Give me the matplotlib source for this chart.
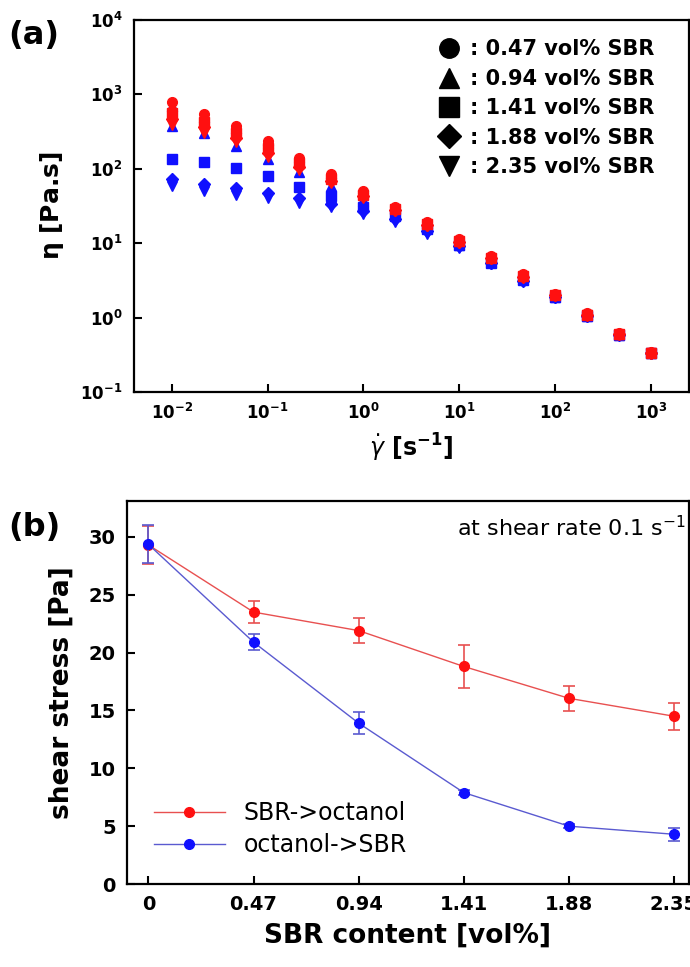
import math
import matplotlib
matplotlib.use('Agg')
import matplotlib.pyplot as plt
from matplotlib.lines import Line2D
from matplotlib.ticker import FixedLocator, FuncFormatter, NullLocator

plt.rcParams['font.family'] = ['DejaVu Sans']
plt.rcParams['mathtext.fontset'] = 'dejavusans'

# ---- panel (a): viscosity vs shear rate ----
shear_rate = [0.01, 0.0215, 0.0464, 0.1, 0.215, 0.464, 1, 2.15, 4.64,
              10, 21.5, 46.4, 100, 215, 464, 1000]
conc_labels = ['0.47', '0.94', '1.41', '1.88', '2.35']
markers = ['o', '^', 's', 'D', 'v']

# SBR->octanol (red)
eta_red_047 = [780, 540, 380, 234, 140, 85, 50, 31, 19, 11.5, 6.8, 3.8, 2.1, 1.15, 0.62, 0.34]
eta_red_094 = [700, 500, 350, 219, 130, 80, 48, 30, 18.5, 11, 6.6, 3.7, 2.05, 1.12, 0.61, 0.34]
eta_red_141 = [560, 430, 300, 188, 118, 74, 45, 29, 18, 10.8, 6.4, 3.6, 2.0, 1.1, 0.6, 0.33]
eta_red_188 = [470, 360, 260, 161, 105, 68, 43, 28, 17.5, 10.5, 6.3, 3.55, 2.0, 1.1, 0.6, 0.33]
eta_red_235 = [390, 300, 230, 145, 97, 64, 41, 27, 17, 10.2, 6.1, 3.5, 1.95, 1.08, 0.59, 0.33]
# octanol->SBR (blue)
eta_blue_047 = [600, 420, 300, 208, 125, 75, 42, 27, 17, 10, 6.0, 3.4, 1.95, 1.08, 0.6, 0.33]
eta_blue_094 = [380, 300, 200, 135, 90, 58, 37, 25, 16, 9.6, 5.6, 3.3, 1.9, 1.05, 0.59, 0.33]
eta_blue_141 = [136, 125, 103, 79, 57, 43, 31, 23, 15.5, 9.5, 5.5, 3.2, 1.9, 1.05, 0.59, 0.33]
eta_blue_188 = [73, 63, 56, 48, 41, 34, 27, 21, 14.5, 9.2, 5.4, 3.15, 1.9, 1.05, 0.59, 0.33]
eta_blue_235 = [58, 50, 44, 40, 35, 31, 24.5, 19.5, 13.5, 8.7, 5.2, 3.1, 1.85, 1.02, 0.58, 0.32]

eta_red = [eta_red_047, eta_red_094, eta_red_141, eta_red_188, eta_red_235]
eta_blue = [eta_blue_047, eta_blue_094, eta_blue_141, eta_blue_188, eta_blue_235]

# ---- panel (b): shear stress at 0.1 1/s ----
sbr_content = [0, 0.47, 0.94, 1.41, 1.88, 2.35]
stress_sbr_oct = [29.3, 23.5, 21.9, 18.8, 16.05, 14.5]
err_sbr_oct = [1.65, 0.95, 1.1, 1.85, 1.07, 1.15]
stress_oct_sbr = [29.35, 20.9, 13.9, 7.9, 5.0, 4.3]
err_oct_sbr = [1.65, 0.7, 0.97, 0.2, 0.15, 0.56]
xtick_labels = ['0', '0.47', '0.94', '1.41', '1.88', '2.35']

RED = '#ff1010'
BLUE = '#1010ff'
RED_LINE = '#e85050'
BLUE_LINE = '#5a5ad0'

fig = plt.figure(figsize=(6.9, 9.67), dpi=100)
ax1 = fig.add_axes([0.1935, 0.5946, 0.8051, 0.3847])
ax2 = fig.add_axes([0.184, 0.0858, 0.8146, 0.3961])

for ax in (ax1, ax2):
    for sp in ax.spines.values():
        sp.set_linewidth(1.6)
    ax.tick_params(direction='in', length=6, width=1.5, top=False, right=False)

# panel (a)
for vals, m in zip(eta_blue, markers):
    ms = 6 if m == 'D' else 7
    ax1.plot(shear_rate, vals, linestyle='none', marker=m, ms=ms,
             color=BLUE, mec=BLUE, zorder=2)
for vals, m in zip(eta_red, markers):
    ms = 6 if m == 'D' else 7
    ax1.plot(shear_rate, vals, linestyle='none', marker=m, ms=ms,
             color=RED, mec=RED, zorder=3)

ax1.set_xscale('log')
ax1.set_yscale('log')
ax1.set_xlim(10 ** -2.4, 10 ** 3.4)
ax1.set_ylim(0.1, 1e4)
ax1.xaxis.set_major_locator(FixedLocator([1e-2, 1e-1, 1, 10, 100, 1000]))
ax1.yaxis.set_major_locator(FixedLocator([0.1, 1, 10, 100, 1000, 1e4]))
ax1.xaxis.set_minor_locator(NullLocator())
ax1.yaxis.set_minor_locator(NullLocator())
pow_fmt = FuncFormatter(lambda v, p: r'$\mathbf{10^{%d}}$' % round(math.log10(v)))
ax1.xaxis.set_major_formatter(pow_fmt)
ax1.yaxis.set_major_formatter(pow_fmt)
ax1.tick_params(labelsize=12, pad=8)
ax1.set_xlabel(r'$\dot{\gamma}$ [s$^{\mathbf{-1}}$]', fontsize=17, fontweight='bold', labelpad=6)
ax1.set_ylabel(r'$\mathbf{\eta}$ [Pa.s]', fontsize=18, fontweight='bold', labelpad=10)

handles = [Line2D([], [], linestyle='none', marker=m, color='black', ms=14 if m != 'D' else 12)
           for m in markers]
ax1.legend(handles, [': %s vol%% SBR' % c for c in conc_labels],
           loc='center left', bbox_to_anchor=(0.55, 0.763), frameon=False,
           borderpad=0, borderaxespad=0, handlelength=1.0, handletextpad=0.5,
           labelspacing=0.45, prop={'weight': 'bold', 'size': 15})

fig.text(0.012, 0.963, '(a)', fontsize=23, fontweight='bold', va='center')

# panel (b)
ax2.errorbar(sbr_content, stress_sbr_oct, yerr=err_sbr_oct, color=RED_LINE,
             lw=1.0, marker='o', ms=7, mfc=RED, mec=RED, ecolor=RED_LINE,
             elinewidth=1.2, capsize=4, capthick=1.2, zorder=2)
ax2.errorbar(sbr_content, stress_oct_sbr, yerr=err_oct_sbr, color=BLUE_LINE,
             lw=1.0, marker='o', ms=7, mfc=BLUE, mec=BLUE, ecolor=BLUE_LINE,
             elinewidth=1.2, capsize=4, capthick=1.2, zorder=3)
ax2.set_xlim(-0.096, 2.417)
ax2.set_ylim(0, 33.1)
ax2.set_xticks(sbr_content)
ax2.set_xticklabels(xtick_labels)
ax2.set_yticks([0, 5, 10, 15, 20, 25, 30])
ax2.tick_params(labelsize=14, pad=8)
for lab in ax2.get_xticklabels() + ax2.get_yticklabels():
    lab.set_fontweight('bold')
ax2.set_xlabel('SBR content [vol%]', fontsize=19, fontweight='bold', labelpad=6)
ax2.set_ylabel('shear stress [Pa]', fontsize=19, fontweight='bold', labelpad=10)

leg_handles = [Line2D([], [], color=RED_LINE, lw=1.0, marker='o', ms=7, mfc=RED, mec=RED),
               Line2D([], [], color=BLUE_LINE, lw=1.0, marker='o', ms=7, mfc=BLUE, mec=BLUE)]
ax2.legend(leg_handles, ['SBR->octanol', 'octanol->SBR'],
           loc='center left', bbox_to_anchor=(0.048, 0.1436), frameon=False,
           borderpad=0, borderaxespad=0, handlelength=3.0, handletextpad=0.8,
           labelspacing=0.35, fontsize=17)

ax2.text(0.587, 0.93, r'at shear rate 0.1 s$^{-1}$', transform=ax2.transAxes,
         fontsize=16, va='center', ha='left')

fig.text(0.012, 0.455, '(b)', fontsize=23, fontweight='bold', va='center')

fig.savefig('out.png', dpi=100)
